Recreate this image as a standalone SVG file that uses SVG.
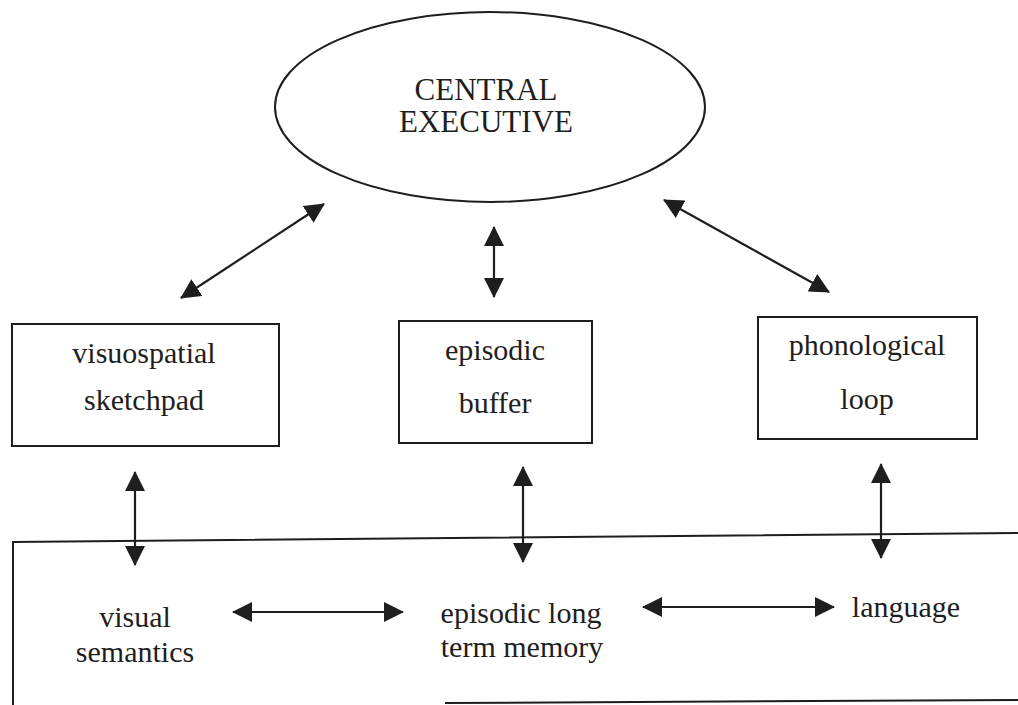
<svg xmlns="http://www.w3.org/2000/svg" width="1018" height="705" viewBox="0 0 1018 705">
<style>
  .shape { fill: none; stroke: #1e1e1e; stroke-width: 2; }
  .conn { stroke: #1e1e1e; stroke-width: 2.2; fill: none; marker-start: url(#head); marker-end: url(#head); }
  .lbl { font-family: "Liberation Serif", "DejaVu Serif", serif; font-size: 30px; fill: #1e1e1e; text-anchor: middle; }
  .ce { font-family: "Liberation Serif", "DejaVu Serif", serif; font-size: 31px; fill: #1e1e1e; text-anchor: middle; }
</style>
<defs>
  <marker id="head" viewBox="0 0 20 20" refX="19" refY="10" markerWidth="20" markerHeight="20" markerUnits="userSpaceOnUse" orient="auto-start-reverse">
    <path d="M0,0 L20,10 L0,20 z" fill="#1e1e1e"/>
  </marker>
</defs>
<rect width="1018" height="705" fill="#ffffff"/>

<g id="central-executive">
  <ellipse class="shape" cx="490" cy="107" rx="215" ry="95" stroke-width="1.6"/>
  <text class="ce" x="486" y="100">CENTRAL</text>
  <text class="ce" x="486" y="132">EXECUTIVE</text>
</g>

<g id="visuospatial-sketchpad">
  <rect class="shape" x="12" y="324" width="267" height="122"/>
  <text class="lbl" x="144" y="363">visuospatial</text>
  <text class="lbl" x="144" y="410">sketchpad</text>
</g>

<g id="episodic-buffer">
  <rect class="shape" x="399" y="321" width="193" height="122"/>
  <text class="lbl" x="495" y="360">episodic</text>
  <text class="lbl" x="495" y="413">buffer</text>
</g>

<g id="phonological-loop">
  <rect class="shape" x="758" y="317" width="219" height="122"/>
  <text class="lbl" x="867" y="355">phonological</text>
  <text class="lbl" x="867" y="409">loop</text>
</g>

<g id="long-term-memory">
  <path class="shape" d="M12,542 L1018,533 M13,541 L13,705"/>
  <path class="shape" d="M445,703 L1018,700" stroke-width="1.8"/>
</g>

<g id="visual-semantics">
  <text class="lbl" x="135" y="627">visual</text>
  <text class="lbl" x="135" y="662">semantics</text>
</g>

<g id="episodic-ltm">
  <text class="lbl" x="521" y="623">episodic long</text>
  <text class="lbl" x="522" y="657">term memory</text>
</g>

<g id="language">
  <text class="lbl" x="906" y="617">language</text>
</g>

<g id="connectors">
  <line class="conn" x1="181" y1="298" x2="324" y2="204"/>
  <line class="conn" x1="494" y1="297" x2="494" y2="227"/>
  <line class="conn" x1="829" y1="292" x2="664" y2="200"/>
  <line class="conn" x1="135" y1="565" x2="135" y2="472"/>
  <line class="conn" x1="523" y1="562" x2="523" y2="467"/>
  <line class="conn" x1="881" y1="558" x2="881" y2="464"/>
  <line class="conn" x1="233" y1="612" x2="403" y2="612"/>
  <line class="conn" x1="643" y1="607" x2="834" y2="607"/>
</g>
</svg>
